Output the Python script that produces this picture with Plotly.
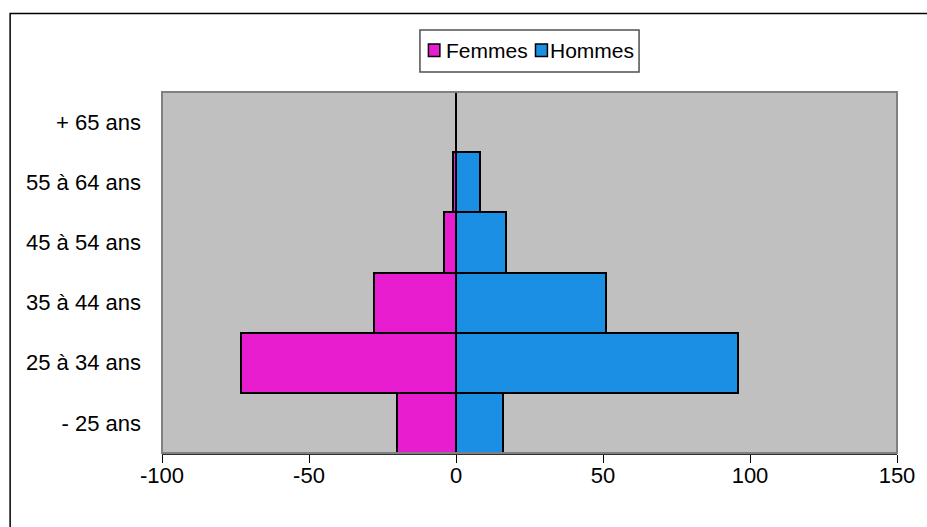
import plotly.graph_objects as go

# Age groups (bottom to top) and headcounts by sex
age_groups = ["- 25 ans", "25 à 34 ans", "35 à 44 ans", "45 à 54 ans", "55 à 64 ans", "+ 65 ans"]
femmes = [20, 73, 28, 4, 1, 0]
hommes = [16, 96, 51, 17, 8, 0]
x_ticks = [-100, -50, 0, 50, 100, 150]

FONT = "Liberation Sans, Arial, sans-serif"
COL_F = "#E81DD0"
COL_H = "#1A8FE3"

W, H = 927, 527
L, R, T, B = 162, 900, 92, 453


def px(xp):
    return (xp - L) / (R - L)


def py(yp):
    return (B - yp) / (B - T)


fig = go.Figure()
fig.add_trace(go.Bar(
    y=age_groups, x=[-v for v in femmes], orientation="h", name="Femmes",
    marker=dict(color=COL_F, line=dict(color="black", width=2)),
    customdata=femmes, hovertemplate="%{y}: %{customdata}<extra>Femmes</extra>",
))
fig.add_trace(go.Bar(
    y=age_groups, x=hommes, orientation="h", name="Hommes",
    marker=dict(color=COL_H, line=dict(color="black", width=2)),
    hovertemplate="%{y}: %{x}<extra>Hommes</extra>",
))

shapes = [
    # outer chart frame
    dict(type="rect", xref="paper", yref="paper", x0=px(9.5), x1=px(940), y0=py(540), y1=py(13.5),
         line=dict(color="black", width=1.5), fillcolor="rgba(0,0,0,0)", layer="below"),
    # plot area frame
    dict(type="rect", xref="paper", yref="paper", x0=0, x1=1, y0=0, y1=1,
         line=dict(color="#808080", width=2), fillcolor="rgba(0,0,0,0)", layer="above"),
    # legend box
    dict(type="rect", xref="paper", yref="paper", x0=px(421), x1=px(641), y0=py(72), y1=py(30),
         line=dict(color="#505050", width=1.5), fillcolor="white"),
    # legend swatches
    dict(type="rect", xref="paper", yref="paper", x0=px(429.5), x1=px(441), y0=py(56.5), y1=py(44),
         line=dict(color="black", width=1.5), fillcolor=COL_F),
    dict(type="rect", xref="paper", yref="paper", x0=px(537), x1=px(549), y0=py(56.5), y1=py(44),
         line=dict(color="black", width=1.5), fillcolor=COL_H),
]

annotations = [
    dict(text="Femmes", xref="paper", yref="paper", x=px(445), y=py(50.5), xanchor="left",
         yanchor="middle", showarrow=False, font=dict(family=FONT, size=21, color="black")),
    dict(text="Hommes", xref="paper", yref="paper", x=px(550), y=py(50.5), xanchor="left",
         yanchor="middle", showarrow=False, font=dict(family=FONT, size=21, color="black")),
]

fig.update_layout(
    width=W, height=H,
    margin=dict(l=L, r=W - R, t=T, b=H - B),
    paper_bgcolor="white", plot_bgcolor="#C0C0C0",
    barmode="relative", bargap=0,
    showlegend=False,
    shapes=shapes, annotations=annotations,
    font=dict(family=FONT, size=22, color="black"),
    xaxis=dict(
        range=[-100, 150], tickvals=x_ticks, ticktext=[str(v) for v in x_ticks],
        showgrid=False, zeroline=True, zerolinecolor="black", zerolinewidth=1,
        ticks="outside", ticklen=8, tickcolor="black", tickwidth=1,
        showline=True, linecolor="#303030", linewidth=2,
        ticklabelstandoff=-6,
        tickfont=dict(family=FONT, size=22),
    ),
    yaxis=dict(
        categoryorder="array", categoryarray=age_groups,
        showgrid=False, zeroline=False, showline=False, ticks="",
        ticklabelstandoff=20, tickfont=dict(family=FONT, size=22),
    ),
)

fig.write_html("out.html")
